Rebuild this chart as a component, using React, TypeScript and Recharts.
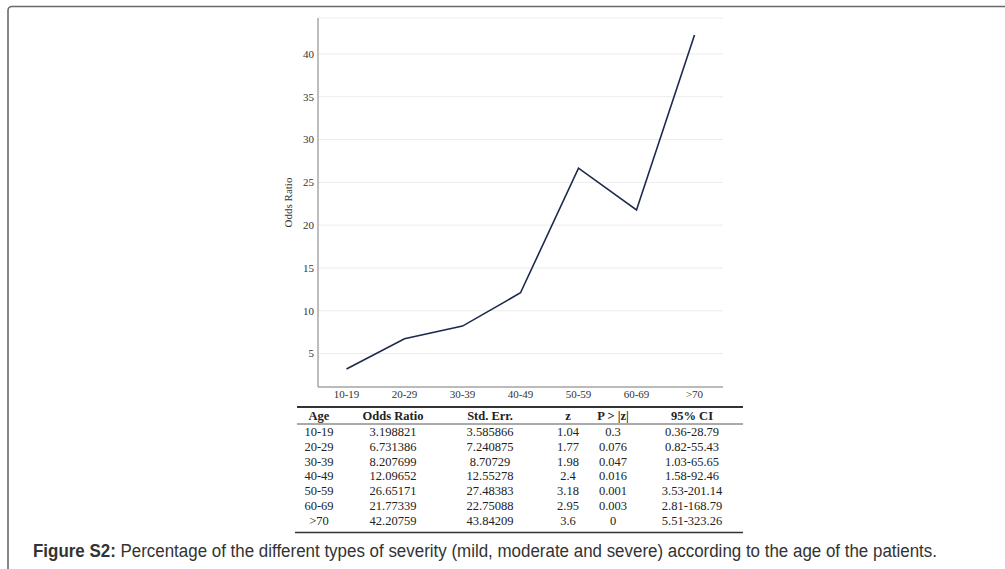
import React from 'react';
import { LineChart, Line, XAxis, YAxis, CartesianGrid } from 'recharts';

const ageGroups = ['10-19', '20-29', '30-39', '40-49', '50-59', '60-69', '>70'];
const oddsRatios = [3.198821, 6.731386, 8.207699, 12.09652, 26.65171, 21.77339, 42.20759];
const stdErrs = ['3.585866', '7.240875', '8.70729', '12.55278', '27.48383', '22.75088', '43.84209'];
const zValues = ['1.04', '1.77', '1.98', '2.4', '3.18', '2.95', '3.6'];
const pValues = ['0.3', '0.076', '0.047', '0.016', '0.001', '0.003', '0'];
const ciLabels = ['0.36-28.79', '0.82-55.43', '1.03-65.65', '1.58-92.46', '3.53-201.14', '2.81-168.79', '5.51-323.26'];
const yTicks = [5, 10, 15, 20, 25, 30, 35, 40];
const tableHeaders = ['Age', 'Odds Ratio', 'Std. Err.', 'z', 'P > |z|', '95% CI'];

const chartData = ageGroups.map((age, i) => ({ age, odds: oddsRatios[i] }));

// table layout
const colX = [319, 393, 490, 568, 613, 692];
const headerY = 416;
const firstRowY = 432;
const rowStep = 14.75;
const serif = '"Liberation Serif", "Times New Roman", serif';

const YLabel = ({ viewBox }: any) => {
  const cy = viewBox.y + viewBox.height / 2;
  const x = viewBox.x + 288;
  return (
    <text
      x={x}
      y={cy}
      transform={`rotate(-90, ${x}, ${cy})`}
      textAnchor="middle"
      dominantBaseline="central"
      fontSize={11}
      fontFamily={serif}
      fill="#333"
    >
      Odds Ratio
    </text>
  );
};

function StatsTable() {
  const rows = ageGroups.map((age, i) => [
    age,
    oddsRatios[i].toString(),
    stdErrs[i],
    zValues[i],
    pValues[i],
    ciLabels[i],
  ]);
  return (
    <g fontFamily={serif} fontSize={12.5} fill="#222">
      <line x1={297} x2={743} y1={407} y2={407} stroke="#333" strokeWidth={1.8} />
      <line x1={297} x2={743} y1={424} y2={424} stroke="#555" strokeWidth={1} />
      <line x1={295} x2={743} y1={532.5} y2={532.5} stroke="#333" strokeWidth={1.5} />
      {tableHeaders.map((h, j) => (
        <text key={h} x={colX[j]} y={headerY} textAnchor="middle" dominantBaseline="central" fontWeight="bold">
          {h}
        </text>
      ))}
      {rows.map((row, i) =>
        row.map((cell, j) => (
          <text
            key={`${i}-${j}`}
            x={colX[j]}
            y={firstRowY + i * rowStep}
            textAnchor="middle"
            dominantBaseline="central"
          >
            {cell}
          </text>
        ))
      )}
    </g>
  );
}

export default function App() {
  return (
    <div style={{ position: 'absolute', left: 0, top: 0, width: 1005, height: 569, background: '#fff' }}>
      <LineChart
        width={1005}
        height={569}
        data={chartData}
        margin={{ top: 18, right: 282, bottom: 0, left: 0 }}
      >
        <CartesianGrid horizontal vertical={false} stroke="#ececec" strokeWidth={1} />
        <XAxis
          dataKey="age"
          height={182}
          padding={{ left: 28.5, right: 28.5 }}
          axisLine={{ stroke: '#808080', strokeWidth: 1.2 }}
          tickLine={false}
          tickSize={0}
          tickMargin={3}
          interval={0}
          tick={{ fontSize: 11, fontFamily: serif, fill: '#333' }}
        />
        <YAxis
          width={318}
          type="number"
          domain={[1.09, 44.2]}
          allowDataOverflow
          ticks={yTicks}
          axisLine={{ stroke: '#a8a8a8', strokeWidth: 1.5 }}
          tickLine={false}
          tickSize={0}
          tickMargin={4}
          tick={{ fontSize: 11, fontFamily: serif, fill: '#333' }}
          label={{ content: YLabel }}
        />
        <Line
          type="linear"
          dataKey="odds"
          stroke="#1c2a4d"
          strokeWidth={1.6}
          dot={false}
          isAnimationActive={false}
        />
      </LineChart>
      <svg
        width={1005}
        height={569}
        style={{ position: 'absolute', left: 0, top: 0, pointerEvents: 'none' }}
      >
        <rect x={8} y={6.5} width={1020} height={600} rx={4} fill="none" stroke="#6a6a6a" strokeWidth={1.6} />
        <StatsTable />
        <text
          x={33}
          y={557}
          fontFamily='"Liberation Sans", Arial, sans-serif'
          fontSize={18}
          fill="#333"
          textLength={904}
          lengthAdjust="spacingAndGlyphs"
        >
          <tspan fontWeight="bold">Figure S2:</tspan> Percentage of the different types of severity (mild, moderate and severe) according to the age of the patients.
        </text>
      </svg>
    </div>
  );
}
